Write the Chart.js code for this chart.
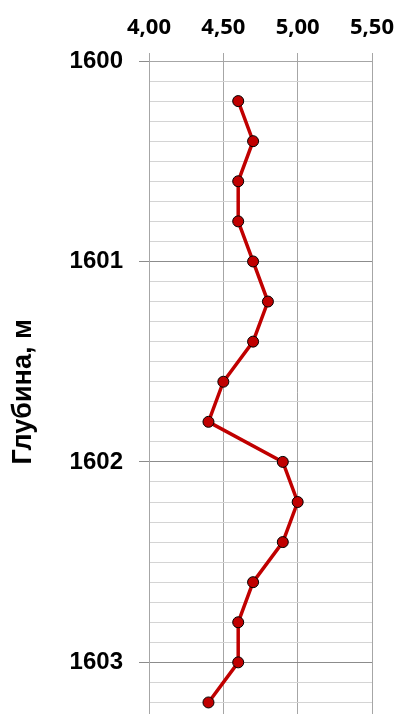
<!DOCTYPE html>
<html lang="ru">
<head>
    <meta charset="UTF-8">
    <title>Глубина</title>
    <script src="https://cdn.jsdelivr.net/npm/chart.js"></script>
    <style>
        body { margin: 0; overflow: hidden; background: #fff; }
    </style>
</head>
<body>
    <canvas id="depthChart" width="399" height="729"></canvas>

    <script>
        // depth, m (every 0.2 m) and measured value
        const depths = [1600.2, 1600.4, 1600.6, 1600.8, 1601.0, 1601.2, 1601.4, 1601.6,
                        1601.8, 1602.0, 1602.2, 1602.4, 1602.6, 1602.8, 1603.0, 1603.2];
        const values = [4.6, 4.7, 4.6, 4.6, 4.7, 4.8, 4.7, 4.5,
                        4.4, 4.9, 5.0, 4.9, 4.7, 4.6, 4.6, 4.4];
        const xTicks = [4.0, 4.5, 5.0, 5.5];
        const depthLabels = [1600, 1601, 1602, 1603];

        const isMajor = v => depthLabels.some(d => Math.abs(d - v) < 1e-6);

        const ctx = document.getElementById('depthChart').getContext('2d');
        new Chart(ctx, {
            type: 'scatter',
            data: {
                datasets: [{
                    data: depths.map((d, i) => ({ x: values[i], y: d })),
                    showLine: true,
                    borderColor: '#c00000',
                    borderWidth: 3.5,
                    backgroundColor: '#c00000',
                    pointBackgroundColor: '#c00000',
                    pointBorderColor: '#000',
                    pointBorderWidth: 1,
                    pointRadius: 5.5
                }]
            },
            options: {
                responsive: false,
                animation: false,
                layout: { padding: { left: 0, right: 27, top: 0, bottom: 0 } },
                plugins: { legend: { display: false }, tooltip: { enabled: false } },
                scales: {
                    x: {
                        position: 'top',
                        min: 4, max: 5.5,
                        afterBuildTicks: s => { s.ticks = xTicks.map(v => ({ value: v })); },
                        afterFit: s => { s.height = 61; s.paddingLeft = 0; s.paddingRight = 0; },
                        ticks: {
                            padding: 12,
                            color: '#000',
                            font: { family: 'Open Sans', weight: 'bold', size: 22 },
                            callback: v => Number(v).toFixed(2).replace('.', ',')
                        },
                        grid: { color: '#a6a6a6', tickLength: 8, tickColor: '#a6a6a6' },
                        border: { color: '#a6a6a6' }
                    },
                    y: {
                        reverse: true,
                        min: 1600, max: 1603.3,
                        ticks: {
                            stepSize: 0.1,
                            autoSkip: false,
                            padding: 16,
                            color: '#000',
                            font: { family: 'Liberation Sans', weight: 'bold', size: 24 },
                            callback: v => isMajor(v) ? String(Math.round(v)) : ''
                        },
                        afterFit: s => { s.width = 149; s.paddingTop = 0; s.paddingBottom = 0; },
                        grid: {
                            tickLength: 10,
                            color: c => isMajor(c.tick.value) ? '#8c8c8c' : '#d4d4d4',
                            tickColor: c => isMajor(c.tick.value) ? '#8c8c8c' : 'rgba(0,0,0,0)'
                        },
                        border: { color: '#a6a6a6' },
                        title: {
                            display: true,
                            text: 'Глубина, м',
                            color: '#000',
                            padding: { top: 7, bottom: 0 },
                            font: { family: 'Liberation Sans', weight: 'bold', size: 27 }
                        }
                    }
                }
            }
        });
    </script>
</body>
</html>
